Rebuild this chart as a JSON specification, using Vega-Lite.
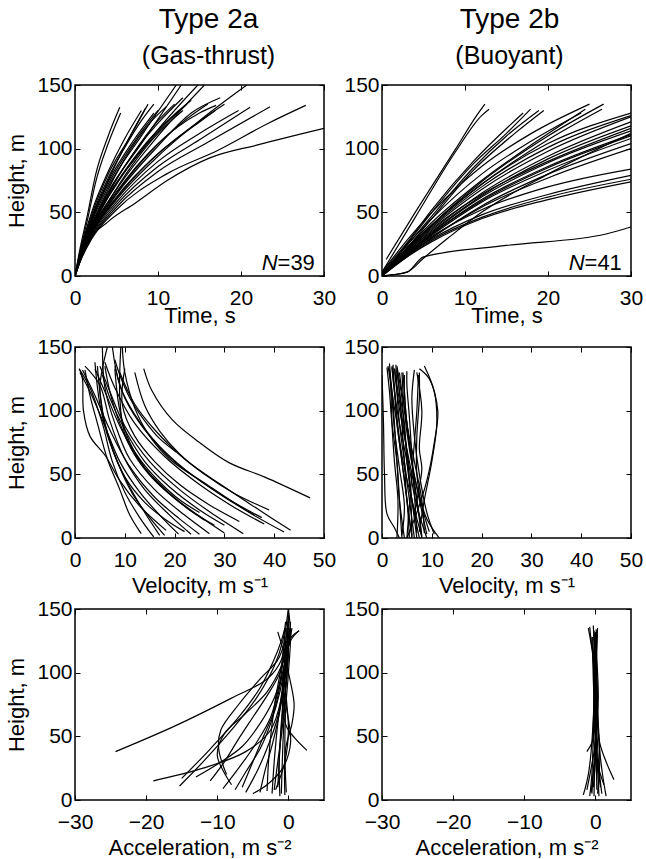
{
"$schema":"https://vega.github.io/schema/vega-lite/v6.json",
"background":"white",
"padding":{"left":5,"top":5,"right":5,"bottom":5},
"columns":2,
"spacing":{"row":71,"column":58},
"bounds":"flush",
"datasets":{
"a1":[
{"i":1,"x":0,"y":0},{"i":1,"x":0.5,"y":18},{"i":1,"x":1.5,"y":48},{"i":1,"x":2.5,"y":80},{"i":1,"x":4,"y":110},{"i":1,"x":5.4,"y":132.5},
{"i":2,"x":0,"y":0},{"i":2,"x":0.5,"y":16},{"i":2,"x":1.5,"y":44},{"i":2,"x":2.5,"y":74},{"i":2,"x":4,"y":104},{"i":2,"x":5.5,"y":128},
{"i":3,"x":0,"y":0},{"i":3,"x":0.6,"y":18},{"i":3,"x":2,"y":50},{"i":3,"x":4,"y":82},{"i":3,"x":6,"y":108},{"i":3,"x":8,"y":130},
{"i":4,"x":0,"y":0},{"i":4,"x":0.6,"y":17},{"i":4,"x":2,"y":48},{"i":4,"x":4,"y":80},{"i":4,"x":6.5,"y":108},{"i":4,"x":8.8,"y":135},
{"i":5,"x":0,"y":0},{"i":5,"x":0.6,"y":16},{"i":5,"x":2,"y":45},{"i":5,"x":4,"y":74},{"i":5,"x":7,"y":106},{"i":5,"x":9.5,"y":128},
{"i":6,"x":0,"y":0},{"i":6,"x":0.6,"y":16},{"i":6,"x":2,"y":44},{"i":6,"x":4,"y":72},{"i":6,"x":7,"y":104},{"i":6,"x":10,"y":130},
{"i":7,"x":0,"y":0},{"i":7,"x":0.6,"y":15},{"i":7,"x":2,"y":42},{"i":7,"x":4,"y":70},{"i":7,"x":8,"y":110},{"i":7,"x":12.2,"y":150},
{"i":8,"x":0,"y":0},{"i":8,"x":0.6,"y":15},{"i":8,"x":2,"y":40},{"i":8,"x":4,"y":66},{"i":8,"x":8,"y":104},{"i":8,"x":12.8,"y":150},
{"i":9,"x":0,"y":0},{"i":9,"x":0.6,"y":14},{"i":9,"x":2,"y":38},{"i":9,"x":4,"y":63},{"i":9,"x":8,"y":98},{"i":9,"x":11,"y":120},{"i":9,"x":13.5,"y":135},
{"i":10,"x":0,"y":0},{"i":10,"x":0.6,"y":14},{"i":10,"x":2,"y":38},{"i":10,"x":5,"y":72},{"i":10,"x":10,"y":115},{"i":10,"x":14.8,"y":150},
{"i":11,"x":0,"y":0},{"i":11,"x":0.6,"y":13},{"i":11,"x":2,"y":36},{"i":11,"x":5,"y":68},{"i":11,"x":10,"y":110},{"i":11,"x":15.6,"y":150},
{"i":12,"x":0,"y":0},{"i":12,"x":0.6,"y":13},{"i":12,"x":2,"y":36},{"i":12,"x":5,"y":66},{"i":12,"x":10,"y":104},{"i":12,"x":15,"y":128},{"i":12,"x":17,"y":134},
{"i":13,"x":0,"y":0},{"i":13,"x":0.6,"y":13},{"i":13,"x":2,"y":34},{"i":13,"x":5,"y":62},{"i":13,"x":10,"y":96},{"i":13,"x":15,"y":121},{"i":13,"x":16.9,"y":130},
{"i":14,"x":0,"y":0},{"i":14,"x":0.6,"y":12},{"i":14,"x":2,"y":33},{"i":14,"x":5,"y":60},{"i":14,"x":10,"y":94},{"i":14,"x":15,"y":122},{"i":14,"x":20.7,"y":150},
{"i":15,"x":0,"y":0},{"i":15,"x":0.6,"y":12},{"i":15,"x":2,"y":32},{"i":15,"x":5,"y":58},{"i":15,"x":10,"y":90},{"i":15,"x":15,"y":112},{"i":15,"x":19.7,"y":130},
{"i":16,"x":0,"y":0},{"i":16,"x":0.6,"y":12},{"i":16,"x":2,"y":31},{"i":16,"x":5,"y":56},{"i":16,"x":10,"y":86},{"i":16,"x":15,"y":107},{"i":16,"x":21.1,"y":132.5},
{"i":17,"x":0,"y":0},{"i":17,"x":0.6,"y":11},{"i":17,"x":2,"y":30},{"i":17,"x":5,"y":54},{"i":17,"x":10,"y":82},{"i":17,"x":16,"y":105},{"i":17,"x":23.5,"y":133},
{"i":18,"x":0,"y":0},{"i":18,"x":0.6,"y":11},{"i":18,"x":2,"y":29},{"i":18,"x":5,"y":52},{"i":18,"x":11,"y":80},{"i":18,"x":17.3,"y":99},{"i":18,"x":23.3,"y":120},{"i":18,"x":27.8,"y":134},
{"i":19,"x":0,"y":0},{"i":19,"x":0.5,"y":10},{"i":19,"x":1.5,"y":25.6},{"i":19,"x":4,"y":42.7},{"i":19,"x":7.2,"y":57},{"i":19,"x":11.2,"y":75.4},{"i":19,"x":16.1,"y":92.4},{"i":19,"x":22,"y":103},{"i":19,"x":30,"y":116},
{"i":20,"x":0,"y":0},{"i":20,"x":0.6,"y":14},{"i":20,"x":2,"y":40},{"i":20,"x":4,"y":68},{"i":20,"x":6,"y":92},{"i":20,"x":9,"y":120},{"i":20,"x":11,"y":133},
{"i":21,"x":0,"y":0},{"i":21,"x":0.6,"y":13},{"i":21,"x":2,"y":37},{"i":21,"x":4,"y":64},{"i":21,"x":7,"y":96},{"i":21,"x":10,"y":122},{"i":21,"x":12,"y":135},
{"i":22,"x":0,"y":0},{"i":22,"x":0.6,"y":12},{"i":22,"x":2,"y":35},{"i":22,"x":4,"y":58},{"i":22,"x":7,"y":88},{"i":22,"x":10,"y":112},{"i":22,"x":13,"y":130},
{"i":23,"x":0,"y":0},{"i":23,"x":0.6,"y":15},{"i":23,"x":2,"y":43},{"i":23,"x":4,"y":75},{"i":23,"x":6,"y":102},{"i":23,"x":8.5,"y":132},
{"i":24,"x":0,"y":0},{"i":24,"x":0.6,"y":13},{"i":24,"x":2,"y":36},{"i":24,"x":4,"y":62},{"i":24,"x":8,"y":100},{"i":24,"x":12,"y":127},{"i":24,"x":14,"y":138},
{"i":25,"x":0,"y":0},{"i":25,"x":0.6,"y":12},{"i":25,"x":2,"y":34},{"i":25,"x":5,"y":64},{"i":25,"x":10,"y":102},{"i":25,"x":14,"y":128},{"i":25,"x":17.5,"y":140},
{"i":26,"x":0,"y":0},{"i":26,"x":0.6,"y":14},{"i":26,"x":2,"y":39},{"i":26,"x":4,"y":65},{"i":26,"x":7,"y":96},{"i":26,"x":10,"y":120},{"i":26,"x":13,"y":140},
{"i":27,"x":0,"y":0},{"i":27,"x":0.6,"y":13},{"i":27,"x":2,"y":35},{"i":27,"x":5,"y":65},{"i":27,"x":9,"y":97},{"i":27,"x":13,"y":121},{"i":27,"x":16,"y":135},
{"i":28,"x":0,"y":0},{"i":28,"x":0.6,"y":16},{"i":28,"x":2,"y":46},{"i":28,"x":4,"y":77},{"i":28,"x":6,"y":101},{"i":28,"x":8,"y":122},{"i":28,"x":9.5,"y":135},
{"i":29,"x":0,"y":0},{"i":29,"x":0.6,"y":12},{"i":29,"x":2,"y":33},{"i":29,"x":5,"y":61},{"i":29,"x":9,"y":90},{"i":29,"x":13,"y":112},{"i":29,"x":18,"y":135}
],
"b1":[
{"i":1,"x":0.5,"y":13},{"i":1,"x":4,"y":50},{"i":1,"x":8.8,"y":99},{"i":1,"x":11.5,"y":127},{"i":1,"x":12.4,"y":135},
{"i":2,"x":0,"y":3},{"i":2,"x":4,"y":46},{"i":2,"x":8.8,"y":97},{"i":2,"x":12,"y":126},{"i":2,"x":12.9,"y":131},
{"i":3,"x":0,"y":0},{"i":3,"x":3,"y":25},{"i":3,"x":6,"y":50},{"i":3,"x":11,"y":88},{"i":3,"x":15,"y":112},{"i":3,"x":17.9,"y":131},
{"i":4,"x":0,"y":2},{"i":4,"x":3,"y":24},{"i":4,"x":6,"y":47},{"i":4,"x":11,"y":85},{"i":4,"x":15,"y":110},{"i":4,"x":18.9,"y":130},
{"i":5,"x":0,"y":0},{"i":5,"x":3,"y":22},{"i":5,"x":6,"y":45},{"i":5,"x":11,"y":83},{"i":5,"x":16,"y":112},{"i":5,"x":19.5,"y":130},
{"i":6,"x":0,"y":3},{"i":6,"x":3,"y":26},{"i":6,"x":6,"y":52},{"i":6,"x":11,"y":90},{"i":6,"x":17,"y":128},
{"i":7,"x":0,"y":0},{"i":7,"x":3,"y":22},{"i":7,"x":6,"y":42},{"i":7,"x":12,"y":75},{"i":7,"x":18,"y":103},{"i":7,"x":24.5,"y":131},
{"i":8,"x":0,"y":1},{"i":8,"x":3,"y":20},{"i":8,"x":6,"y":40},{"i":8,"x":12,"y":74},{"i":8,"x":20,"y":110},{"i":8,"x":26.7,"y":135},
{"i":9,"x":0,"y":2},{"i":9,"x":3,"y":21},{"i":9,"x":6,"y":40},{"i":9,"x":12,"y":72},{"i":9,"x":20,"y":107},{"i":9,"x":26.5,"y":131},
{"i":10,"x":0,"y":0},{"i":10,"x":3,"y":22},{"i":10,"x":6,"y":40},{"i":10,"x":12,"y":72},{"i":10,"x":20,"y":104},{"i":10,"x":30,"y":128},
{"i":11,"x":0,"y":1},{"i":11,"x":3,"y":20},{"i":11,"x":6,"y":38},{"i":11,"x":12,"y":68},{"i":11,"x":20,"y":98},{"i":11,"x":30,"y":125},
{"i":12,"x":0,"y":0},{"i":12,"x":3,"y":19},{"i":12,"x":6,"y":36},{"i":12,"x":12,"y":65},{"i":12,"x":20,"y":94},{"i":12,"x":30,"y":121},
{"i":13,"x":0,"y":2},{"i":13,"x":3,"y":20},{"i":13,"x":6,"y":37},{"i":13,"x":12,"y":64},{"i":13,"x":20,"y":90},{"i":13,"x":30,"y":116},
{"i":14,"x":0,"y":0},{"i":14,"x":3,"y":18},{"i":14,"x":6,"y":34},{"i":14,"x":12,"y":62},{"i":14,"x":20,"y":89},{"i":14,"x":30,"y":114},
{"i":15,"x":0,"y":1},{"i":15,"x":3,"y":18},{"i":15,"x":6,"y":33},{"i":15,"x":12,"y":60},{"i":15,"x":20,"y":86},{"i":15,"x":30,"y":111},
{"i":16,"x":0,"y":0},{"i":16,"x":3,"y":17},{"i":16,"x":6,"y":32},{"i":16,"x":12,"y":58},{"i":16,"x":20,"y":83},{"i":16,"x":30,"y":108},
{"i":17,"x":0,"y":0},{"i":17,"x":3,"y":16},{"i":17,"x":6,"y":30},{"i":17,"x":12,"y":55},{"i":17,"x":20,"y":80},{"i":17,"x":30,"y":104},
{"i":18,"x":0,"y":1},{"i":18,"x":3,"y":16},{"i":18,"x":6,"y":30},{"i":18,"x":12,"y":54},{"i":18,"x":20,"y":77},{"i":18,"x":30,"y":100},
{"i":19,"x":0,"y":0},{"i":19,"x":3,"y":17},{"i":19,"x":6,"y":31},{"i":19,"x":12,"y":52},{"i":19,"x":20,"y":70},{"i":19,"x":30,"y":84},
{"i":20,"x":0,"y":0},{"i":20,"x":3,"y":16},{"i":20,"x":6,"y":29},{"i":20,"x":12,"y":48},{"i":20,"x":20,"y":64},{"i":20,"x":30,"y":79},
{"i":21,"x":0,"y":0},{"i":21,"x":3,"y":15},{"i":21,"x":6,"y":28},{"i":21,"x":12,"y":46},{"i":21,"x":20,"y":62},{"i":21,"x":30,"y":76},
{"i":22,"x":0,"y":1},{"i":22,"x":3,"y":15},{"i":22,"x":6,"y":27},{"i":22,"x":12,"y":45},{"i":22,"x":20,"y":60},{"i":22,"x":30,"y":74},
{"i":23,"x":0,"y":0},{"i":23,"x":3,"y":3},{"i":23,"x":5,"y":15},{"i":23,"x":15,"y":24},{"i":23,"x":27,"y":33},{"i":23,"x":30,"y":38.5},
{"i":24,"x":0,"y":0},{"i":24,"x":3,"y":3},{"i":24,"x":5,"y":14},{"i":24,"x":8,"y":30},{"i":24,"x":12,"y":50},{"i":24,"x":20,"y":80},{"i":24,"x":30,"y":112},
{"i":25,"x":0,"y":3},{"i":25,"x":3,"y":28},{"i":25,"x":6,"y":50},{"i":25,"x":12,"y":86},{"i":25,"x":18,"y":112},{"i":25,"x":25,"y":135},
{"i":26,"x":0,"y":0},{"i":26,"x":3,"y":24},{"i":26,"x":6,"y":45},{"i":26,"x":12,"y":80},{"i":26,"x":18,"y":106},{"i":26,"x":24,"y":128},
{"i":27,"x":0,"y":1},{"i":27,"x":3,"y":21},{"i":27,"x":6,"y":39},{"i":27,"x":12,"y":70},{"i":27,"x":20,"y":101},{"i":27,"x":30,"y":126},
{"i":28,"x":0,"y":0},{"i":28,"x":3,"y":19},{"i":28,"x":6,"y":35},{"i":28,"x":12,"y":63},{"i":28,"x":20,"y":92},{"i":28,"x":30,"y":118},
{"i":29,"x":0,"y":0},{"i":29,"x":3,"y":17},{"i":29,"x":6,"y":33},{"i":29,"x":12,"y":59},{"i":29,"x":20,"y":85},{"i":29,"x":30,"y":110}
],
"a2":[
{"i":1,"x":47.2,"y":31.5},{"i":1,"x":38,"y":48},{"i":1,"x":31,"y":59},{"i":1,"x":25,"y":75},{"i":1,"x":19.6,"y":92.5},{"i":1,"x":15.4,"y":116},{"i":1,"x":13.8,"y":133},
{"i":2,"x":43.3,"y":6},{"i":2,"x":37,"y":22},{"i":2,"x":30,"y":40},{"i":2,"x":22,"y":62},{"i":2,"x":16,"y":85},{"i":2,"x":12,"y":105},{"i":2,"x":9,"y":130},
{"i":3,"x":42,"y":4.7},{"i":3,"x":35,"y":20},{"i":3,"x":28,"y":38},{"i":3,"x":20,"y":60},{"i":3,"x":14,"y":85},{"i":3,"x":10,"y":110},{"i":3,"x":8,"y":135},
{"i":4,"x":38,"y":11},{"i":4,"x":32,"y":24},{"i":4,"x":25,"y":42},{"i":4,"x":18,"y":64},{"i":4,"x":12,"y":90},{"i":4,"x":8,"y":118},{"i":4,"x":6,"y":138},
{"i":5,"x":37.5,"y":16},{"i":5,"x":31,"y":30},{"i":5,"x":24,"y":48},{"i":5,"x":17,"y":72},{"i":5,"x":12,"y":97},{"i":5,"x":9,"y":120},{"i":5,"x":7.5,"y":150},
{"i":6,"x":33.8,"y":3.4},{"i":6,"x":28,"y":18},{"i":6,"x":21,"y":38},{"i":6,"x":15,"y":60},{"i":6,"x":10,"y":88},{"i":6,"x":7,"y":115},{"i":6,"x":5,"y":135},
{"i":7,"x":30,"y":4},{"i":7,"x":25,"y":17},{"i":7,"x":19,"y":35},{"i":7,"x":13,"y":60},{"i":7,"x":9,"y":88},{"i":7,"x":6,"y":115},{"i":7,"x":4,"y":133},
{"i":8,"x":27,"y":3.4},{"i":8,"x":22,"y":18},{"i":8,"x":16,"y":38},{"i":8,"x":11,"y":62},{"i":8,"x":8,"y":90},{"i":8,"x":6,"y":118},{"i":8,"x":5.5,"y":150},
{"i":9,"x":25,"y":3},{"i":9,"x":21,"y":15},{"i":9,"x":16,"y":32},{"i":9,"x":11,"y":56},{"i":9,"x":7,"y":85},{"i":9,"x":4,"y":112},{"i":9,"x":1.5,"y":132},
{"i":10,"x":23.3,"y":3},{"i":10,"x":19,"y":18},{"i":10,"x":14,"y":38},{"i":10,"x":10,"y":62},{"i":10,"x":7,"y":92},{"i":10,"x":5,"y":120},{"i":10,"x":2,"y":135},
{"i":11,"x":20.8,"y":3},{"i":11,"x":17,"y":18},{"i":11,"x":13,"y":36},{"i":11,"x":9,"y":60},{"i":11,"x":6,"y":88},{"i":11,"x":3,"y":115},{"i":11,"x":1,"y":130},
{"i":12,"x":18,"y":2},{"i":12,"x":15,"y":16},{"i":12,"x":11.5,"y":35},{"i":12,"x":8.5,"y":60},{"i":12,"x":6,"y":90},{"i":12,"x":5,"y":118},{"i":12,"x":6.5,"y":150},
{"i":13,"x":15.8,"y":0.8},{"i":13,"x":13,"y":16},{"i":13,"x":10,"y":36},{"i":13,"x":7.5,"y":60},{"i":13,"x":5.5,"y":90},{"i":13,"x":3,"y":118},{"i":13,"x":0.8,"y":133},
{"i":14,"x":13.3,"y":3.4},{"i":14,"x":11,"y":18},{"i":14,"x":9,"y":38},{"i":14,"x":6.5,"y":62},{"i":14,"x":4.5,"y":90},{"i":14,"x":3,"y":112},{"i":14,"x":2,"y":132},
{"i":15,"x":18.3,"y":6},{"i":15,"x":13,"y":25},{"i":15,"x":9,"y":45},{"i":15,"x":6.2,"y":64},{"i":15,"x":3,"y":80},{"i":15,"x":1.7,"y":100},{"i":15,"x":1.5,"y":125},{"i":15,"x":1,"y":132},
{"i":16,"x":20.3,"y":67.6},{"i":16,"x":17,"y":78},{"i":16,"x":14,"y":92},{"i":16,"x":11,"y":110},{"i":16,"x":9,"y":128},{"i":16,"x":8,"y":140},
{"i":17,"x":36,"y":18},{"i":17,"x":30,"y":32},{"i":17,"x":24,"y":48},{"i":17,"x":19,"y":62},{"i":17,"x":15,"y":80},{"i":17,"x":12,"y":102},{"i":17,"x":10,"y":130},{"i":17,"x":9.5,"y":150},
{"i":18,"x":25,"y":20},{"i":18,"x":21,"y":30},{"i":18,"x":17,"y":44},{"i":18,"x":13,"y":62},{"i":18,"x":10,"y":82},{"i":18,"x":9,"y":110},{"i":18,"x":9.2,"y":150},
{"i":19,"x":28,"y":10},{"i":19,"x":23,"y":22},{"i":19,"x":18,"y":38},{"i":19,"x":14,"y":55},{"i":19,"x":11,"y":75},{"i":19,"x":9,"y":100},{"i":19,"x":8,"y":133},
{"i":20,"x":33,"y":13},{"i":20,"x":27,"y":26},{"i":20,"x":21,"y":42},{"i":20,"x":16,"y":60},{"i":20,"x":12,"y":80},{"i":20,"x":9.5,"y":105},{"i":20,"x":10,"y":133},
{"i":21,"x":22,"y":5},{"i":21,"x":18,"y":15},{"i":21,"x":14,"y":28},{"i":21,"x":10,"y":48},{"i":21,"x":7,"y":75},{"i":21,"x":5,"y":105},{"i":21,"x":4,"y":138},
{"i":22,"x":39,"y":22},{"i":22,"x":32,"y":35},{"i":22,"x":26,"y":50},{"i":22,"x":21,"y":66},{"i":22,"x":17,"y":84},{"i":22,"x":14,"y":104},{"i":22,"x":12,"y":130},
{"i":23,"x":17,"y":2},{"i":23,"x":14,"y":20},{"i":23,"x":11,"y":40},{"i":23,"x":8,"y":65},{"i":23,"x":6,"y":90},{"i":23,"x":5,"y":115},{"i":23,"x":4.5,"y":135},
{"i":24,"x":30,"y":10},{"i":24,"x":25,"y":22},{"i":24,"x":19,"y":40},{"i":24,"x":14,"y":60},{"i":24,"x":10,"y":85},{"i":24,"x":7,"y":110},{"i":24,"x":5.5,"y":128},
{"i":25,"x":26,"y":14},{"i":25,"x":21,"y":28},{"i":25,"x":16,"y":45},{"i":25,"x":12,"y":65},{"i":25,"x":9,"y":90},{"i":25,"x":7,"y":115},{"i":25,"x":6,"y":135}
],
"b2":[
{"i":1,"x":8,"y":2},{"i":1,"x":7,"y":30},{"i":1,"x":5.5,"y":60},{"i":1,"x":4,"y":90},{"i":1,"x":3,"y":115},{"i":1,"x":2.5,"y":133},
{"i":2,"x":9,"y":3},{"i":2,"x":7.5,"y":30},{"i":2,"x":6,"y":60},{"i":2,"x":5,"y":90},{"i":2,"x":4,"y":115},{"i":2,"x":3.5,"y":130},
{"i":3,"x":7,"y":0},{"i":3,"x":6,"y":30},{"i":3,"x":5,"y":60},{"i":3,"x":3.5,"y":90},{"i":3,"x":2.5,"y":115},{"i":3,"x":2,"y":135},
{"i":4,"x":6,"y":1},{"i":4,"x":5,"y":30},{"i":4,"x":4,"y":60},{"i":4,"x":3,"y":90},{"i":4,"x":2,"y":115},{"i":4,"x":1.5,"y":137},
{"i":5,"x":8.5,"y":4},{"i":5,"x":8,"y":30},{"i":5,"x":6.5,"y":60},{"i":5,"x":5,"y":90},{"i":5,"x":4.5,"y":115},{"i":5,"x":4.2,"y":130},
{"i":6,"x":10.5,"y":3},{"i":6,"x":9,"y":20},{"i":6,"x":7.5,"y":50},{"i":6,"x":6.5,"y":80},{"i":6,"x":6,"y":110},{"i":6,"x":6.5,"y":132},
{"i":7,"x":7.5,"y":5},{"i":7,"x":8.5,"y":30},{"i":7,"x":10,"y":60},{"i":7,"x":11,"y":90},{"i":7,"x":10.5,"y":115},{"i":7,"x":8.5,"y":135},
{"i":8,"x":5,"y":0},{"i":8,"x":7,"y":20},{"i":8,"x":9,"y":45},{"i":8,"x":10.5,"y":75},{"i":8,"x":11.2,"y":100},{"i":8,"x":9.5,"y":125},{"i":8,"x":7.5,"y":133},
{"i":9,"x":4,"y":2},{"i":9,"x":4.5,"y":25},{"i":9,"x":3.5,"y":55},{"i":9,"x":2.5,"y":85},{"i":9,"x":2,"y":110},{"i":9,"x":1.5,"y":133},
{"i":10,"x":3.5,"y":0},{"i":10,"x":2.5,"y":8},{"i":10,"x":1,"y":19},{"i":10,"x":0.5,"y":50},{"i":10,"x":0.3,"y":90},{"i":10,"x":0,"y":128},
{"i":11,"x":6,"y":2},{"i":11,"x":5,"y":30},{"i":11,"x":4.5,"y":60},{"i":11,"x":4,"y":90},{"i":11,"x":3.5,"y":115},{"i":11,"x":3,"y":132},
{"i":12,"x":9,"y":0},{"i":12,"x":7,"y":25},{"i":12,"x":5.5,"y":55},{"i":12,"x":4.5,"y":85},{"i":12,"x":4,"y":110},{"i":12,"x":3,"y":135},
{"i":13,"x":5,"y":0},{"i":13,"x":5.5,"y":25},{"i":13,"x":6,"y":50},{"i":13,"x":6.5,"y":75},{"i":13,"x":7,"y":100},{"i":13,"x":7.3,"y":128},
{"i":14,"x":11.5,"y":0},{"i":14,"x":9,"y":15},{"i":14,"x":7,"y":40},{"i":14,"x":5.5,"y":70},{"i":14,"x":4.5,"y":100},{"i":14,"x":4,"y":130},
{"i":15,"x":4.5,"y":0},{"i":15,"x":3.5,"y":30},{"i":15,"x":3,"y":60},{"i":15,"x":2.5,"y":90},{"i":15,"x":2,"y":115},{"i":15,"x":1.2,"y":135},
{"i":16,"x":7,"y":4},{"i":16,"x":6.5,"y":35},{"i":16,"x":6,"y":65},{"i":16,"x":5.5,"y":95},{"i":16,"x":5,"y":120},{"i":16,"x":5,"y":131},
{"i":17,"x":8,"y":1},{"i":17,"x":6,"y":30},{"i":17,"x":4,"y":65},{"i":17,"x":3,"y":95},{"i":17,"x":2.5,"y":118},{"i":17,"x":2.2,"y":136},
{"i":18,"x":6.5,"y":20},{"i":18,"x":7.5,"y":40},{"i":18,"x":8,"y":55},{"i":18,"x":7.5,"y":70},{"i":18,"x":8,"y":100},{"i":18,"x":7,"y":130},
{"i":19,"x":5.5,"y":0},{"i":19,"x":5,"y":30},{"i":19,"x":4,"y":60},{"i":19,"x":3,"y":90},{"i":19,"x":2.5,"y":115},{"i":19,"x":2,"y":134},
{"i":20,"x":6.5,"y":0},{"i":20,"x":5.5,"y":30},{"i":20,"x":4.5,"y":60},{"i":20,"x":3.5,"y":90},{"i":20,"x":3,"y":115},{"i":20,"x":2.8,"y":136},
{"i":21,"x":4,"y":0},{"i":21,"x":3.5,"y":30},{"i":21,"x":3,"y":60},{"i":21,"x":2,"y":90},{"i":21,"x":1.5,"y":115},{"i":21,"x":1,"y":134},
{"i":22,"x":7.5,"y":0},{"i":22,"x":6,"y":30},{"i":22,"x":5,"y":60},{"i":22,"x":4.5,"y":90},{"i":22,"x":3.5,"y":115},{"i":22,"x":3,"y":133},
{"i":23,"x":3,"y":0},{"i":23,"x":3.2,"y":30},{"i":23,"x":2.5,"y":60},{"i":23,"x":2,"y":90},{"i":23,"x":1.8,"y":115},{"i":23,"x":1.6,"y":130},
{"i":24,"x":8,"y":0},{"i":24,"x":7,"y":30},{"i":24,"x":6,"y":60},{"i":24,"x":5,"y":90},{"i":24,"x":4.5,"y":115},{"i":24,"x":4.5,"y":128},
{"i":25,"x":6,"y":0},{"i":25,"x":5.8,"y":30},{"i":25,"x":5.2,"y":60},{"i":25,"x":4.2,"y":90},{"i":25,"x":3.2,"y":115},{"i":25,"x":2.5,"y":133},
{"i":26,"x":9.5,"y":5},{"i":26,"x":8,"y":25},{"i":26,"x":7,"y":50},{"i":26,"x":7,"y":80},{"i":26,"x":7.5,"y":110},{"i":26,"x":7.5,"y":130}
],
"a3":[
{"i":1,"x":-24.3,"y":38},{"i":1,"x":-16,"y":58},{"i":1,"x":-8,"y":80},{"i":1,"x":-3,"y":95},{"i":1,"x":-1,"y":110},{"i":1,"x":-0.5,"y":130},{"i":1,"x":0,"y":150},
{"i":2,"x":-19,"y":15},{"i":2,"x":-12,"y":25},{"i":2,"x":-6,"y":38},{"i":2,"x":-2.5,"y":55},{"i":2,"x":-1,"y":80},{"i":2,"x":-0.5,"y":110},{"i":2,"x":-0.3,"y":135},
{"i":3,"x":-15.3,"y":11},{"i":3,"x":-12,"y":30},{"i":3,"x":-8,"y":55},{"i":3,"x":-4.5,"y":80},{"i":3,"x":-2,"y":105},{"i":3,"x":-0.8,"y":125},{"i":3,"x":-0.4,"y":140},
{"i":4,"x":-15,"y":17},{"i":4,"x":-11,"y":40},{"i":4,"x":-7,"y":65},{"i":4,"x":-4,"y":88},{"i":4,"x":-2.2,"y":108},{"i":4,"x":-1,"y":125},{"i":4,"x":-0.5,"y":135},
{"i":5,"x":-9.2,"y":9},{"i":5,"x":-7,"y":25},{"i":5,"x":-4.5,"y":45},{"i":5,"x":-2.5,"y":65},{"i":5,"x":-1.3,"y":90},{"i":5,"x":-0.6,"y":115},{"i":5,"x":-0.2,"y":133},
{"i":6,"x":-8.7,"y":20},{"i":6,"x":-9.8,"y":40},{"i":6,"x":-9.5,"y":55},{"i":6,"x":-7,"y":75},{"i":6,"x":-4,"y":95},{"i":6,"x":-1.5,"y":110},{"i":6,"x":-0.5,"y":125},
{"i":7,"x":-6.5,"y":10},{"i":7,"x":-5,"y":30},{"i":7,"x":-3.5,"y":50},{"i":7,"x":-2,"y":70},{"i":7,"x":-1,"y":95},{"i":7,"x":0,"y":120},{"i":7,"x":0.5,"y":135},
{"i":8,"x":-4,"y":6},{"i":8,"x":-3.2,"y":25},{"i":8,"x":-2.2,"y":45},{"i":8,"x":-1.2,"y":70},{"i":8,"x":-0.5,"y":95},{"i":8,"x":0,"y":120},{"i":8,"x":0.3,"y":140},
{"i":9,"x":-1.2,"y":3},{"i":9,"x":-1.3,"y":30},{"i":9,"x":-1,"y":60},{"i":9,"x":-0.6,"y":90},{"i":9,"x":-0.2,"y":120},{"i":9,"x":0,"y":150},
{"i":10,"x":-2.3,"y":5},{"i":10,"x":-2,"y":30},{"i":10,"x":-1.5,"y":60},{"i":10,"x":-0.8,"y":90},{"i":10,"x":-0.3,"y":115},{"i":10,"x":0.2,"y":135},
{"i":11,"x":-7.5,"y":8},{"i":11,"x":-6,"y":22},{"i":11,"x":-4,"y":40},{"i":11,"x":-2.5,"y":60},{"i":11,"x":-1.2,"y":85},{"i":11,"x":-0.4,"y":110},{"i":11,"x":0,"y":130},
{"i":12,"x":-11,"y":15},{"i":12,"x":-9,"y":30},{"i":12,"x":-7,"y":48},{"i":12,"x":-5,"y":65},{"i":12,"x":-3,"y":82},{"i":12,"x":-1.2,"y":100},{"i":12,"x":-0.3,"y":125},
{"i":13,"x":2.6,"y":39},{"i":13,"x":1,"y":48},{"i":13,"x":-0.3,"y":58},{"i":13,"x":-0.8,"y":75},{"i":13,"x":-0.5,"y":100},{"i":13,"x":0,"y":125},{"i":13,"x":1.5,"y":133},
{"i":14,"x":-5,"y":5},{"i":14,"x":-3,"y":12},{"i":14,"x":-0.8,"y":25},{"i":14,"x":0.3,"y":45},{"i":14,"x":-0.2,"y":70},{"i":14,"x":-0.8,"y":90},{"i":14,"x":-0.2,"y":120},{"i":14,"x":0,"y":145},
{"i":15,"x":-0.5,"y":4},{"i":15,"x":-0.4,"y":40},{"i":15,"x":0.5,"y":60},{"i":15,"x":0.8,"y":75},{"i":15,"x":0.2,"y":95},{"i":15,"x":-0.6,"y":115},{"i":15,"x":-1.5,"y":132},
{"i":16,"x":-13,"y":18},{"i":16,"x":-10,"y":28},{"i":16,"x":-6.5,"y":42},{"i":16,"x":-4,"y":60},{"i":16,"x":-2,"y":80},{"i":16,"x":-0.8,"y":100},{"i":16,"x":-0.3,"y":120},
{"i":17,"x":-3,"y":7},{"i":17,"x":-2.8,"y":30},{"i":17,"x":-2.4,"y":55},{"i":17,"x":-1.8,"y":80},{"i":17,"x":-1,"y":105},{"i":17,"x":-0.5,"y":128},
{"i":18,"x":-8,"y":12},{"i":18,"x":-10,"y":35},{"i":18,"x":-9,"y":52},{"i":18,"x":-6,"y":68},{"i":18,"x":-3,"y":85},{"i":18,"x":-1,"y":105},{"i":18,"x":0,"y":125},
{"i":19,"x":-1.8,"y":8},{"i":19,"x":-0.5,"y":30},{"i":19,"x":0,"y":55},{"i":19,"x":-0.3,"y":80},{"i":19,"x":-0.6,"y":100},{"i":19,"x":0.3,"y":125},{"i":19,"x":1.5,"y":133},
{"i":20,"x":-6,"y":6},{"i":20,"x":-4.2,"y":25},{"i":20,"x":-2.7,"y":45},{"i":20,"x":-1.5,"y":65},{"i":20,"x":-0.7,"y":88},{"i":20,"x":-0.2,"y":112},{"i":20,"x":0.2,"y":130},
{"i":21,"x":-1,"y":5},{"i":21,"x":-0.8,"y":40},{"i":21,"x":-0.5,"y":80},{"i":21,"x":-0.2,"y":110},{"i":21,"x":0,"y":140},
{"i":22,"x":-0.3,"y":6},{"i":22,"x":-0.5,"y":35},{"i":22,"x":-0.4,"y":70},{"i":22,"x":0,"y":100},{"i":22,"x":0.3,"y":130},{"i":22,"x":0,"y":150},
{"i":23,"x":-1.5,"y":10},{"i":23,"x":-1.2,"y":40},{"i":23,"x":-0.8,"y":70},{"i":23,"x":-0.2,"y":100},{"i":23,"x":-0.1,"y":130},
{"i":24,"x":-2,"y":8},{"i":24,"x":-1.5,"y":30},{"i":24,"x":-0.9,"y":55},{"i":24,"x":-0.4,"y":85},{"i":24,"x":0,"y":115},{"i":24,"x":-0.2,"y":140}
],
"b3":[
{"i":1,"x":-1.7,"y":4},{"i":1,"x":-1,"y":20},{"i":1,"x":-0.5,"y":45},{"i":1,"x":-0.2,"y":80},{"i":1,"x":-0.3,"y":110},{"i":1,"x":-1,"y":135},
{"i":2,"x":2.6,"y":16},{"i":2,"x":1.5,"y":30},{"i":2,"x":0.6,"y":45},{"i":2,"x":0.2,"y":70},{"i":2,"x":0,"y":100},{"i":2,"x":-0.2,"y":130},
{"i":3,"x":1.5,"y":3},{"i":3,"x":1,"y":20},{"i":3,"x":0.5,"y":45},{"i":3,"x":0.3,"y":75},{"i":3,"x":0,"y":105},{"i":3,"x":0.2,"y":132},
{"i":4,"x":-1.2,"y":38},{"i":4,"x":-0.5,"y":45},{"i":4,"x":0,"y":60},{"i":4,"x":0.2,"y":90},{"i":4,"x":-0.1,"y":115},{"i":4,"x":-0.3,"y":137},
{"i":5,"x":-0.8,"y":3},{"i":5,"x":-0.5,"y":20},{"i":5,"x":-0.3,"y":50},{"i":5,"x":-0.1,"y":80},{"i":5,"x":0,"y":110},{"i":5,"x":0.1,"y":130},
{"i":6,"x":0.5,"y":3},{"i":6,"x":0.3,"y":25},{"i":6,"x":0.1,"y":50},{"i":6,"x":0,"y":80},{"i":6,"x":-0.2,"y":105},{"i":6,"x":-0.4,"y":128},
{"i":7,"x":-1.2,"y":8},{"i":7,"x":-0.6,"y":25},{"i":7,"x":0,"y":45},{"i":7,"x":0.3,"y":70},{"i":7,"x":0.1,"y":100},{"i":7,"x":-0.6,"y":125},{"i":7,"x":-0.8,"y":136},
{"i":8,"x":0.9,"y":5},{"i":8,"x":0.5,"y":25},{"i":8,"x":0.2,"y":55},{"i":8,"x":0,"y":85},{"i":8,"x":0.1,"y":110},{"i":8,"x":0.2,"y":125},
{"i":9,"x":-0.3,"y":10},{"i":9,"x":0,"y":30},{"i":9,"x":0.2,"y":60},{"i":9,"x":0.4,"y":80},{"i":9,"x":0.3,"y":100},{"i":9,"x":0,"y":130},
{"i":10,"x":1.2,"y":12},{"i":10,"x":0.2,"y":30},{"i":10,"x":-0.3,"y":50},{"i":10,"x":-0.2,"y":75},{"i":10,"x":0,"y":105},{"i":10,"x":0.3,"y":135},
{"i":11,"x":-0.5,"y":5},{"i":11,"x":-0.3,"y":20},{"i":11,"x":0.1,"y":40},{"i":11,"x":-0.1,"y":65},{"i":11,"x":-0.3,"y":95},{"i":11,"x":-0.4,"y":120},
{"i":12,"x":0.3,"y":5},{"i":12,"x":0.6,"y":30},{"i":12,"x":0.5,"y":50},{"i":12,"x":0.2,"y":75},{"i":12,"x":-0.2,"y":100},{"i":12,"x":-0.5,"y":128},
{"i":13,"x":-0.2,"y":3},{"i":13,"x":-0.1,"y":30},{"i":13,"x":0.1,"y":60},{"i":13,"x":0.2,"y":90},{"i":13,"x":0,"y":115},{"i":13,"x":-0.2,"y":133},
{"i":14,"x":0.2,"y":8},{"i":14,"x":0.1,"y":35},{"i":14,"x":-0.1,"y":65},{"i":14,"x":0,"y":95},{"i":14,"x":0.2,"y":120},{"i":14,"x":0.1,"y":134},
{"i":15,"x":-0.6,"y":6},{"i":15,"x":-0.2,"y":30},{"i":15,"x":0,"y":60},{"i":15,"x":-0.1,"y":90},{"i":15,"x":0,"y":115},{"i":15,"x":0.3,"y":130},
{"i":16,"x":0.7,"y":10},{"i":16,"x":0.3,"y":30},{"i":16,"x":0,"y":55},{"i":16,"x":-0.2,"y":85},{"i":16,"x":-0.2,"y":110},{"i":16,"x":0,"y":132}
]
},
"concat":[
{"width":249,"height":191,
 "title":{"text":"Type 2a","subtitle":"(Gas-thrust)","dx":9},
 "layer":[
  {"data":{"name":"a1"},"mark":{"type":"line","color":"black","strokeWidth":1.2,"interpolate":"monotone","clip":true},
   "encoding":{"x":{"field":"x","type":"quantitative","scale":{"domain":[0,30],"nice":false,"zero":false},"axis":{"orient":"bottom","values":[0,10,20,30],"title":"Time, s"}},
    "y":{"field":"y","type":"quantitative","scale":{"domain":[0,150],"nice":false},"axis":{"orient":"left","values":[0,50,100,150],"title":"Height, m"}},
    "detail":{"field":"i","type":"nominal"},"order":{"field":"y","type":"quantitative"}}},
  {"data":{"values":[{"x":28.9,"y":5,"t":"=39"}]},"mark":{"type":"text","align":"right","baseline":"alphabetic","fontSize":22,"color":"black"},
   "encoding":{"x":{"field":"x","type":"quantitative","axis":{"orient":"top","labels":false,"title":null,"values":[0,10,20,30]}},
    "y":{"field":"y","type":"quantitative","axis":{"orient":"right","labels":false,"title":null,"values":[0,50,100,150]}},"text":{"field":"t"}}},
  {"data":{"values":[{"x":24.4,"y":5,"t":"N"}]},"mark":{"type":"text","align":"right","baseline":"alphabetic","fontSize":22,"fontStyle":"italic","color":"black"},
   "encoding":{"x":{"field":"x","type":"quantitative","axis":null},"y":{"field":"y","type":"quantitative","axis":null},"text":{"field":"t"}}}
 ]},
{"width":249,"height":191,
 "title":{"text":"Type 2b","subtitle":"(Buoyant)","dx":3},
 "layer":[
  {"data":{"name":"b1"},"mark":{"type":"line","color":"black","strokeWidth":1.2,"interpolate":"monotone","clip":true},
   "encoding":{"x":{"field":"x","type":"quantitative","scale":{"domain":[0,30],"nice":false,"zero":false},"axis":{"orient":"bottom","values":[0,10,20,30],"title":"Time, s"}},
    "y":{"field":"y","type":"quantitative","scale":{"domain":[0,150],"nice":false},"axis":{"orient":"left","values":[0,50,100,150],"title":null}},
    "detail":{"field":"i","type":"nominal"},"order":{"field":"y","type":"quantitative"}}},
  {"data":{"values":[{"x":28.9,"y":5,"t":"=41"}]},"mark":{"type":"text","align":"right","baseline":"alphabetic","fontSize":22,"color":"black"},
   "encoding":{"x":{"field":"x","type":"quantitative","axis":{"orient":"top","labels":false,"title":null,"values":[0,10,20,30]}},
    "y":{"field":"y","type":"quantitative","axis":{"orient":"right","labels":false,"title":null,"values":[0,50,100,150]}},"text":{"field":"t"}}},
  {"data":{"values":[{"x":24.4,"y":5,"t":"N"}]},"mark":{"type":"text","align":"right","baseline":"alphabetic","fontSize":22,"fontStyle":"italic","color":"black"},
   "encoding":{"x":{"field":"x","type":"quantitative","axis":null},"y":{"field":"y","type":"quantitative","axis":null},"text":{"field":"t"}}}
 ]},
{"width":249,"height":191,
 "layer":[
  {"data":{"name":"a2"},"mark":{"type":"line","color":"black","strokeWidth":1.2,"interpolate":"catmull-rom","clip":true},
   "encoding":{"x":{"field":"x","type":"quantitative","scale":{"domain":[0,50],"nice":false,"zero":false},"axis":{"orient":"bottom","values":[0,10,20,30,40,50],"title":"Velocity, m s⁻¹","titlePadding":5}},
    "y":{"field":"y","type":"quantitative","scale":{"domain":[0,150],"nice":false},"axis":{"orient":"left","values":[0,50,100,150],"title":"Height, m"}},
    "detail":{"field":"i","type":"nominal"},"order":{"field":"y","type":"quantitative"}}},
  {"data":{"values":[]},"mark":{"type":"point","opacity":0},
   "encoding":{"x":{"field":"x","type":"quantitative","axis":{"orient":"top","labels":false,"title":null,"values":[0,10,20,30,40,50]}},
    "y":{"field":"y","type":"quantitative","axis":{"orient":"right","labels":false,"title":null,"values":[0,50,100,150]}}}}
 ]},
{"width":249,"height":191,
 "layer":[
  {"data":{"name":"b2"},"mark":{"type":"line","color":"black","strokeWidth":1.2,"interpolate":"catmull-rom","clip":true},
   "encoding":{"x":{"field":"x","type":"quantitative","scale":{"domain":[0,50],"nice":false,"zero":false},"axis":{"orient":"bottom","values":[0,10,20,30,40,50],"title":"Velocity, m s⁻¹","titlePadding":5}},
    "y":{"field":"y","type":"quantitative","scale":{"domain":[0,150],"nice":false},"axis":{"orient":"left","values":[0,50,100,150],"title":null}},
    "detail":{"field":"i","type":"nominal"},"order":{"field":"y","type":"quantitative"}}},
  {"data":{"values":[]},"mark":{"type":"point","opacity":0},
   "encoding":{"x":{"field":"x","type":"quantitative","axis":{"orient":"top","labels":false,"title":null,"values":[0,10,20,30,40,50]}},
    "y":{"field":"y","type":"quantitative","axis":{"orient":"right","labels":false,"title":null,"values":[0,50,100,150]}}}}
 ]},
{"width":249,"height":191,
 "layer":[
  {"data":{"name":"a3"},"mark":{"type":"line","color":"black","strokeWidth":1.2,"interpolate":"catmull-rom","clip":true},
   "encoding":{"x":{"field":"x","type":"quantitative","scale":{"domain":[-30,5],"nice":false,"zero":false},"axis":{"orient":"bottom","values":[-30,-20,-10,0],"title":"Acceleration, m s⁻²","titlePadding":5}},
    "y":{"field":"y","type":"quantitative","scale":{"domain":[0,150],"nice":false},"axis":{"orient":"left","values":[0,50,100,150],"title":"Height, m"}},
    "detail":{"field":"i","type":"nominal"},"order":{"field":"y","type":"quantitative"}}},
  {"data":{"values":[]},"mark":{"type":"point","opacity":0},
   "encoding":{"x":{"field":"x","type":"quantitative","axis":{"orient":"top","labels":false,"title":null,"values":[-30,-20,-10,0]}},
    "y":{"field":"y","type":"quantitative","axis":{"orient":"right","labels":false,"title":null,"values":[0,50,100,150]}}}}
 ]},
{"width":249,"height":191,
 "layer":[
  {"data":{"name":"b3"},"mark":{"type":"line","color":"black","strokeWidth":1.2,"interpolate":"catmull-rom","clip":true},
   "encoding":{"x":{"field":"x","type":"quantitative","scale":{"domain":[-30,5],"nice":false,"zero":false},"axis":{"orient":"bottom","values":[-30,-20,-10,0],"title":"Acceleration, m s⁻²","titlePadding":5}},
    "y":{"field":"y","type":"quantitative","scale":{"domain":[0,150],"nice":false},"axis":{"orient":"left","values":[0,50,100,150],"title":null}},
    "detail":{"field":"i","type":"nominal"},"order":{"field":"y","type":"quantitative"}}},
  {"data":{"values":[]},"mark":{"type":"point","opacity":0},
   "encoding":{"x":{"field":"x","type":"quantitative","axis":{"orient":"top","labels":false,"title":null,"values":[-30,-20,-10,0]}},
    "y":{"field":"y","type":"quantitative","axis":{"orient":"right","labels":false,"title":null,"values":[0,50,100,150]}}}}
 ]}
],
"config":{
 "font":"Liberation Sans",
 "view":{"stroke":"black","strokeWidth":1.5},
 "axis":{"grid":false,"domain":false,"ticks":true,"tickSize":-5,"tickColor":"black","tickWidth":1,"labelFont":"Liberation Sans","labelFontSize":21,"labelColor":"black","titleFont":"Liberation Sans","titleFontSize":22,"titleFontWeight":"normal","titleColor":"black","labelFlush":false,"labelOverlap":false},
 "axisBottom":{"labelPadding":16.5,"titlePadding":-3},
 "axisLeft":{"labelPadding":8,"titlePadding":8},
 "title":{"font":"Liberation Sans","fontSize":28,"fontWeight":"normal","color":"black","subtitleFont":"Liberation Sans","subtitleFontSize":25,"subtitleColor":"black","anchor":"middle","offset":5,"subtitlePadding":10}
}
}
